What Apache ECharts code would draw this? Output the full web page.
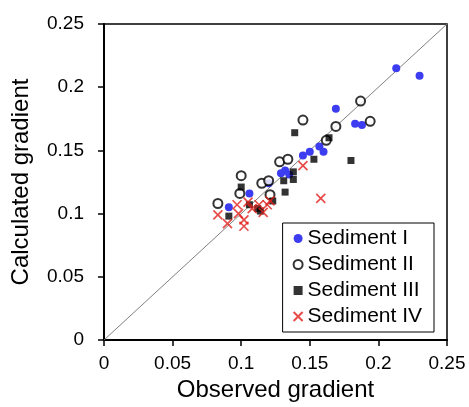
<!DOCTYPE html>
<html>
<head>
<meta charset="utf-8">
<script src="https://cdn.jsdelivr.net/npm/echarts@6/dist/echarts.min.js"></script>
<style>
html,body{margin:0;padding:0;background:#fff;}
#chart{width:469px;height:407px;}
</style>
</head>
<body>
<div id="chart"></div>
<script>
var seriesNames = ['Sediment I', 'Sediment II', 'Sediment III', 'Sediment IV'];
var sediment1 = [[0.091,0.105],[0.106,0.116],[0.120,0.124],[0.129,0.132],[0.132,0.134],[0.135,0.131],[0.145,0.146],[0.150,0.149],[0.157,0.153],[0.160,0.149],[0.169,0.183],[0.183,0.171],[0.188,0.170],[0.213,0.215],[0.230,0.209]];
var sediment2 = [[0.083,0.108],[0.099,0.116],[0.100,0.130],[0.115,0.124],[0.120,0.126],[0.121,0.115],[0.128,0.141],[0.134,0.143],[0.145,0.174],[0.162,0.158],[0.169,0.169],[0.187,0.189],[0.194,0.173]];
var sediment3 = [[0.091,0.098],[0.100,0.121],[0.106,0.107],[0.112,0.104],[0.114,0.102],[0.123,0.110],[0.131,0.126],[0.132,0.117],[0.138,0.133],[0.138,0.127],[0.139,0.164],[0.153,0.143],[0.164,0.160],[0.180,0.142]];
var sediment4 = [[0.083,0.099],[0.090,0.092],[0.097,0.107],[0.098,0.100],[0.102,0.095],[0.102,0.090],[0.105,0.109],[0.108,0.104],[0.113,0.107],[0.116,0.101],[0.119,0.107],[0.121,0.110],[0.145,0.138],[0.158,0.112]];
var diagonal = [[0,0],[0.25,0.25]];
var axisMin = 0, axisMax = 0.25, axisStep = 0.05;

var FONT = 'Liberation Sans, Arial, sans-serif';
var xSym = 'path://M0,0 L10,10 M10,0 L0,10';
var chart = echarts.init(document.getElementById('chart'), null, {renderer:'canvas'});
chart.setOption({
  animation:false,
  backgroundColor:'#fff',
  grid:{left:104, top:24, right:22, bottom:65, show:true, borderColor:'#000', borderWidth:1.5, backgroundColor:'transparent'},
  xAxis:{
    type:'value', min:axisMin, max:axisMax, interval:axisStep,
    name:'Observed gradient', nameLocation:'middle', nameGap:38,
    nameTextStyle:{fontFamily:FONT, fontSize:24, color:'#000'},
    axisLine:{lineStyle:{color:'#000', width:2}},
    axisTick:{show:true, inside:false, length:6, lineStyle:{color:'#000', width:1.5}},
    axisLabel:{fontFamily:FONT, fontSize:19, color:'#000', margin:14},
    splitLine:{show:false}
  },
  yAxis:{
    type:'value', min:axisMin, max:axisMax, interval:axisStep,
    name:'Calculated gradient', nameLocation:'middle', nameGap:71, nameRotate:90,
    nameTextStyle:{fontFamily:FONT, fontSize:24, color:'#000'},
    axisLine:{lineStyle:{color:'#000', width:2}},
    axisTick:{show:true, inside:false, length:6, lineStyle:{color:'#000', width:1.5}},
    axisLabel:{fontFamily:FONT, fontSize:19, color:'#000', margin:20},
    splitLine:{show:false}
  },
  legend:{
    orient:'vertical', right:35, top:223,
    backgroundColor:'#fff', borderColor:'#000', borderWidth:1,
    padding:[5,12,5,10], itemGap:5, itemWidth:9, itemHeight:9,
    textStyle:{fontFamily:FONT, fontSize:21, color:'#000', lineHeight:21},
    data:seriesNames
  },
  series:[
    {type:'line', data:diagonal, symbol:'none', lineStyle:{color:'#808080', width:1}, silent:true, z:1},
    {name:seriesNames[0], type:'scatter', data:sediment1, symbol:'circle', symbolSize:8,
     itemStyle:{color:'#3c3cf0', opacity:1}, z:3},
    {name:seriesNames[1], type:'scatter', data:sediment2, symbol:'emptyCircle', symbolSize:9,
     itemStyle:{color:'#000', borderColor:'#000', borderWidth:1.8}, z:4},
    {name:seriesNames[2], type:'scatter', data:sediment3, symbol:'rect', symbolSize:7,
     itemStyle:{color:'#000'}, z:5},
    {name:seriesNames[3], type:'scatter', data:sediment4, symbol:xSym, symbolSize:9,
     itemStyle:{color:'#e0201c', borderColor:'#e0201c', borderWidth:1.7}, z:6}
  ]
});
</script>
</body>
</html>
